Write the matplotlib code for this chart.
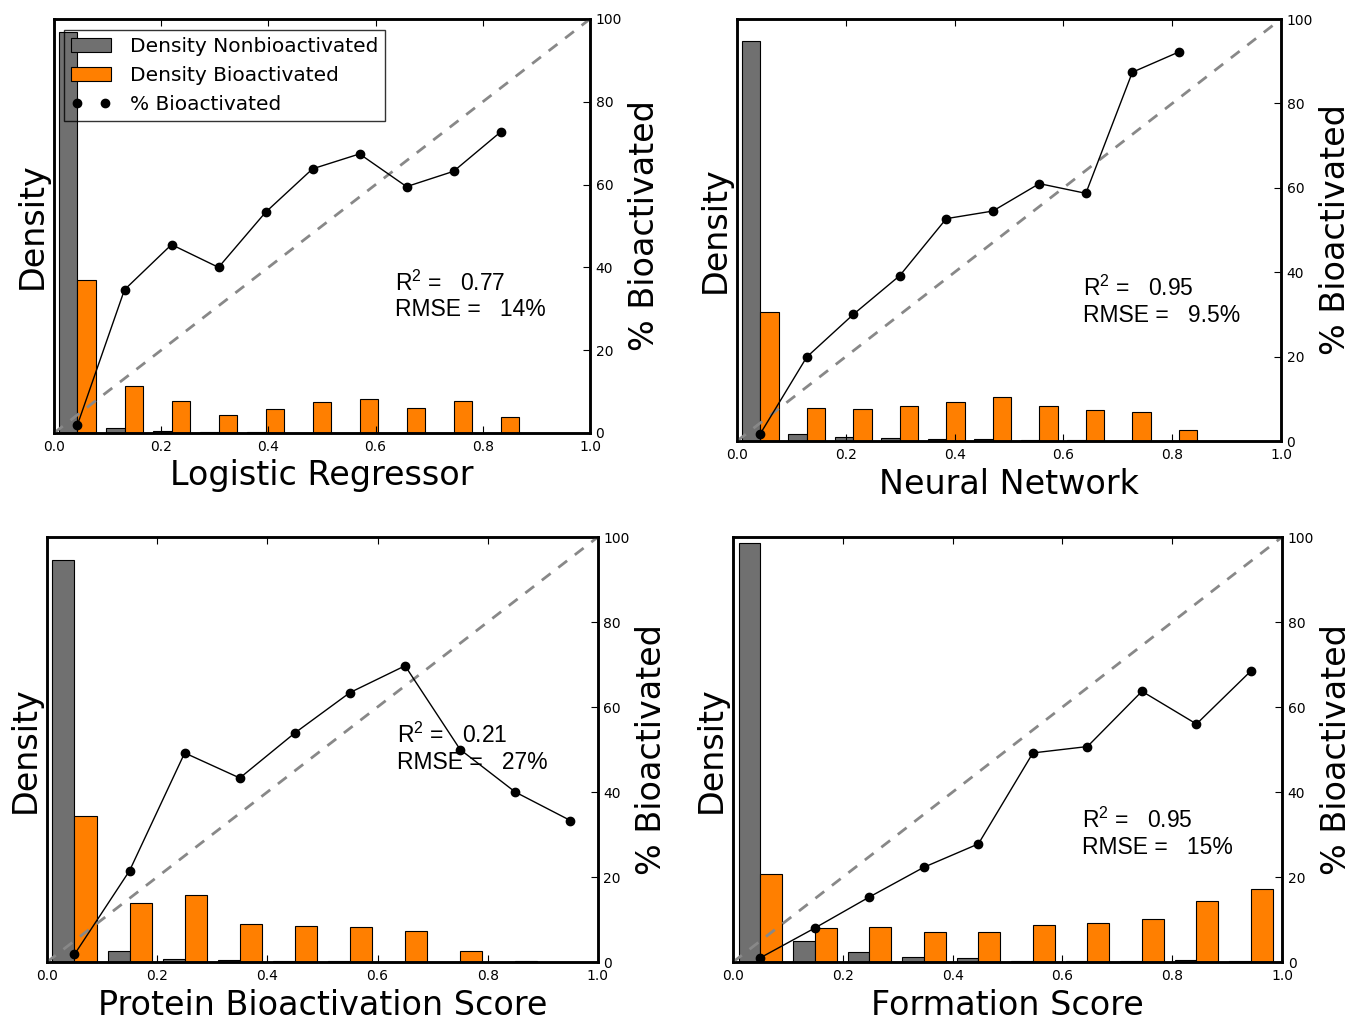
import numpy as np
import matplotlib
matplotlib.use("Agg")
import matplotlib.pyplot as plt

plt.rcParams['font.family'] = ['DejaVu Sans']
plt.rcParams['mathtext.fontset'] = 'custom'
plt.rcParams['mathtext.rm'] = 'Liberation Sans'
plt.rcParams['mathtext.it'] = 'Liberation Sans'

# score range covered by the 10 histogram bins in each panel
titles = ["Logistic Regressor", "Neural Network",
          "Protein Bioactivation Score", "Formation Score"]
score_max = [0.877, 0.855, 1.0, 0.993]

# share of compounds per bin (relative to the left axis height)
nonbio_lr = [0.968, 0.011, 0.005, 0.003, 0.002, 0.001, 0.001, 0.001, 0.001, 0.0]
bio_lr = [0.370, 0.113, 0.0765, 0.043, 0.059, 0.074, 0.082, 0.061, 0.0765, 0.039]
pct_lr = [2.0, 34.6, 45.5, 40.0, 53.3, 63.8, 67.4, 59.5, 63.2, 72.7]

nonbio_nn = [0.949, 0.017, 0.010, 0.006, 0.004, 0.004, 0.002, 0.002, 0.0, 0.0]
bio_nn = [0.306, 0.079, 0.077, 0.082, 0.092, 0.105, 0.082, 0.074, 0.069, 0.027]
pct_nn = [1.7, 19.9, 30.0, 39.2, 52.7, 54.5, 61.0, 58.7, 87.4, 92.2]

nonbio_pb = [0.947, 0.027, 0.008, 0.005, 0.003, 0.002, 0.001, 0.0, 0.0, 0.0]
bio_pb = [0.343, 0.139, 0.157, 0.089, 0.085, 0.082, 0.074, 0.025, 0.002, 0.0]
pct_pb = [1.8, 21.5, 49.2, 43.3, 53.9, 63.4, 69.7, 50.0, 40.0, 33.3]

nonbio_fs = [0.987, 0.050, 0.024, 0.013, 0.009, 0.003, 0.003, 0.002, 0.005, 0.002]
bio_fs = [0.206, 0.080, 0.083, 0.070, 0.070, 0.088, 0.091, 0.102, 0.143, 0.171]
pct_fs = [1.0, 8.0, 15.3, 22.3, 27.8, 49.2, 50.7, 63.7, 56.0, 68.5]

r2_vals = ["0.77", "0.95", "0.21", "0.95"]
rmse_vals = ["14%", "9.5%", "27%", "15%"]

nonbio = [nonbio_lr, nonbio_nn, nonbio_pb, nonbio_fs]
bio = [bio_lr, bio_nn, bio_pb, bio_fs]
pct = [pct_lr, pct_nn, pct_pb, pct_fs]

# axes rectangles in figure fractions
rects = [[0.0399, 0.5751, 0.3962, 0.4063],
         [0.5447, 0.5672, 0.4021, 0.4141],
         [0.0347, 0.0559, 0.4072, 0.4171],
         [0.5418, 0.0559, 0.4058, 0.4171]]
text_y = [0.362, 0.361, 0.533, 0.333]

GRAY = '#707070'
ORANGE = '#ff7f00'

fig = plt.figure(figsize=(13.53, 10.19), dpi=100)

for k in range(4):
    ax1 = fig.add_axes(rects[k])
    edges = np.linspace(0, score_max[k], 11)
    centers = (edges[:-1] + edges[1:]) / 2
    ax1.hist([centers, centers], bins=edges,
             weights=[nonbio[k], bio[k]],
             color=[GRAY, ORANGE], edgecolor='black',
             linewidth=0.8, rwidth=0.8,
             label=['Density Nonbioactivated', 'Density Bioactivated'])
    ax1.set_xlim(0, 1)
    ax1.set_ylim(0, 1)
    ax1.set_yticks([])
    ax1.set_xticks(np.arange(0, 1.01, 0.2))
    ax1.tick_params(axis='x', direction='in', top=True, length=5,
                    labelsize=10, pad=5)
    ax1.set_xlabel(titles[k], fontsize=24)
    ax1.set_ylabel('Density', fontsize=24)
    for s in ax1.spines.values():
        s.set_linewidth(1.8)

    ax2 = ax1.twinx()
    ax2.plot([0, 1], [0, 100], color='#888888', linestyle='--',
             linewidth=2, dashes=(4, 3.5))
    ax2.plot(centers, pct[k], color='black', linewidth=1)
    pts, = ax2.plot(centers, pct[k], 'o', color='black', markersize=6,
                    linestyle='none', label='% Bioactivated')
    ax2.set_ylim(0, 100)
    ax2.set_xlim(0, 1)
    ax2.set_yticks(np.arange(0, 101, 20))
    ax2.tick_params(axis='y', direction='in', length=5, labelsize=10, pad=4)
    ax2.set_ylabel('% Bioactivated', fontsize=24)
    for s in ax2.spines.values():
        s.set_linewidth(1.8)

    ax2.text(0.636, text_y[k], r"R$^{2}$ =   " + r2_vals[k],
             transform=ax2.transAxes, fontsize=16.5, va='center', ha='left',
             family='Liberation Sans')
    ax2.text(0.636, text_y[k] - 0.064, "RMSE =   " + rmse_vals[k],
             transform=ax2.transAxes, fontsize=16.5, va='center', ha='left',
             family='Liberation Sans')

    if k == 0:
        h1, l1 = ax1.get_legend_handles_labels()
        leg = ax2.legend(h1 + [pts], l1 + ['% Bioactivated'], loc='upper left',
                         bbox_to_anchor=(0.019, 0.973), borderaxespad=0,
                         fontsize=14.5, numpoints=2, fancybox=False,
                         edgecolor='black', handlelength=2.0,
                         labelspacing=0.5, borderpad=0.35, handletextpad=0.9)
        leg.get_frame().set_facecolor('none')
        leg.get_frame().set_linewidth(1.0)

fig.savefig('out.png', dpi=100)
